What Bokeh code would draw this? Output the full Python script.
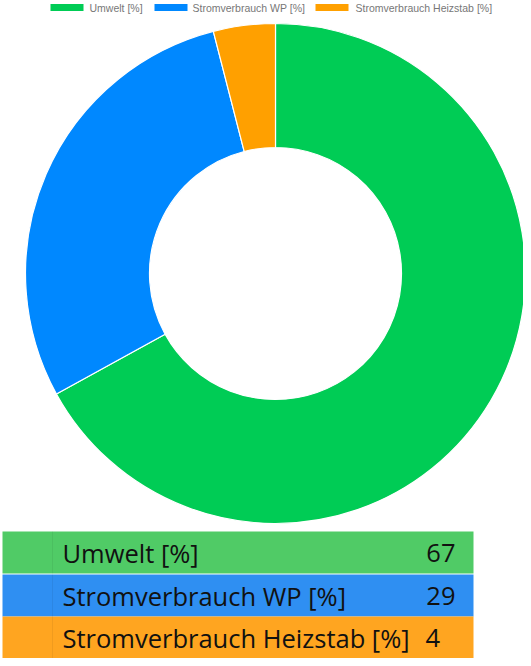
import numpy as np
from bokeh.plotting import figure
from bokeh.models import Range1d
from bokeh.core.properties import value
from bokeh.embed import file_html
from bokeh.resources import INLINE

labels = ["Umwelt [%]", "Stromverbrauch WP [%]", "Stromverbrauch Heizstab [%]"]
values = [67, 29, 4]
pie_colors = ["#00CC55", "#0088FF", "#FFA000"]
table_colors = ["#50CB66", "#2F8FF2", "#FFA520"]

W, H = 523, 658
p = figure(width=W, height=H, output_backend="svg", toolbar_location=None,
           x_range=Range1d(0, W), y_range=Range1d(0, H), min_border=0)
p.axis.visible = False
p.grid.visible = False
p.outline_line_color = None
p.background_fill_color = "white"

# donut
vals = np.array(values, dtype=float)
frac = vals / vals.sum()
cum = np.concatenate([[0], np.cumsum(frac)])
starts = np.pi / 2 - cum[1:] * 2 * np.pi
ends = np.pi / 2 - cum[:-1] * 2 * np.pi
cx, cy = 275, 385
p.annular_wedge(x=cx, y=cy, inner_radius=126, outer_radius=250,
                start_angle=starts, end_angle=ends, fill_color=pie_colors,
                line_color="white", line_width=1.2)

# legend at top
sw_x = [50, 154, 315]
tx = [89, 192, 355]
ly = 651
p.quad(left=sw_x, right=[x + 33 for x in sw_x], bottom=ly - 3.5, top=ly + 3.5,
       fill_color=pie_colors, line_color=None)
p.text(x=tx, y=ly, text=labels, text_font=value("Liberation Sans"),
       text_font_size="10.5px", text_color="#777777", text_baseline="middle")

# table
row_h = 42
tops = [127, 84, 42]
p.quad(left=2, right=473, top=tops, bottom=[t - row_h for t in tops],
       fill_color=table_colors, line_color=None)
p.segment(x0=52, x1=52, y0=[t - row_h for t in tops], y1=tops,
          line_color="#000000", line_alpha=0.06, line_width=1)
mids = [t - row_h / 2 for t in tops]
p.text(x=62, y=mids, text=labels, text_font=value("Open Sans"),
       text_font_size="25.5px", text_color="#111111", text_baseline="middle")
p.text(x=[455, 455, 425], y=mids, text=[str(v) for v in values],
       text_font=value("Open Sans"), text_font_size="25.5px",
       text_color="#111111", text_baseline="middle",
       text_align=["right", "right", "left"])

open("out.html", "w").write(file_html(p, INLINE))
